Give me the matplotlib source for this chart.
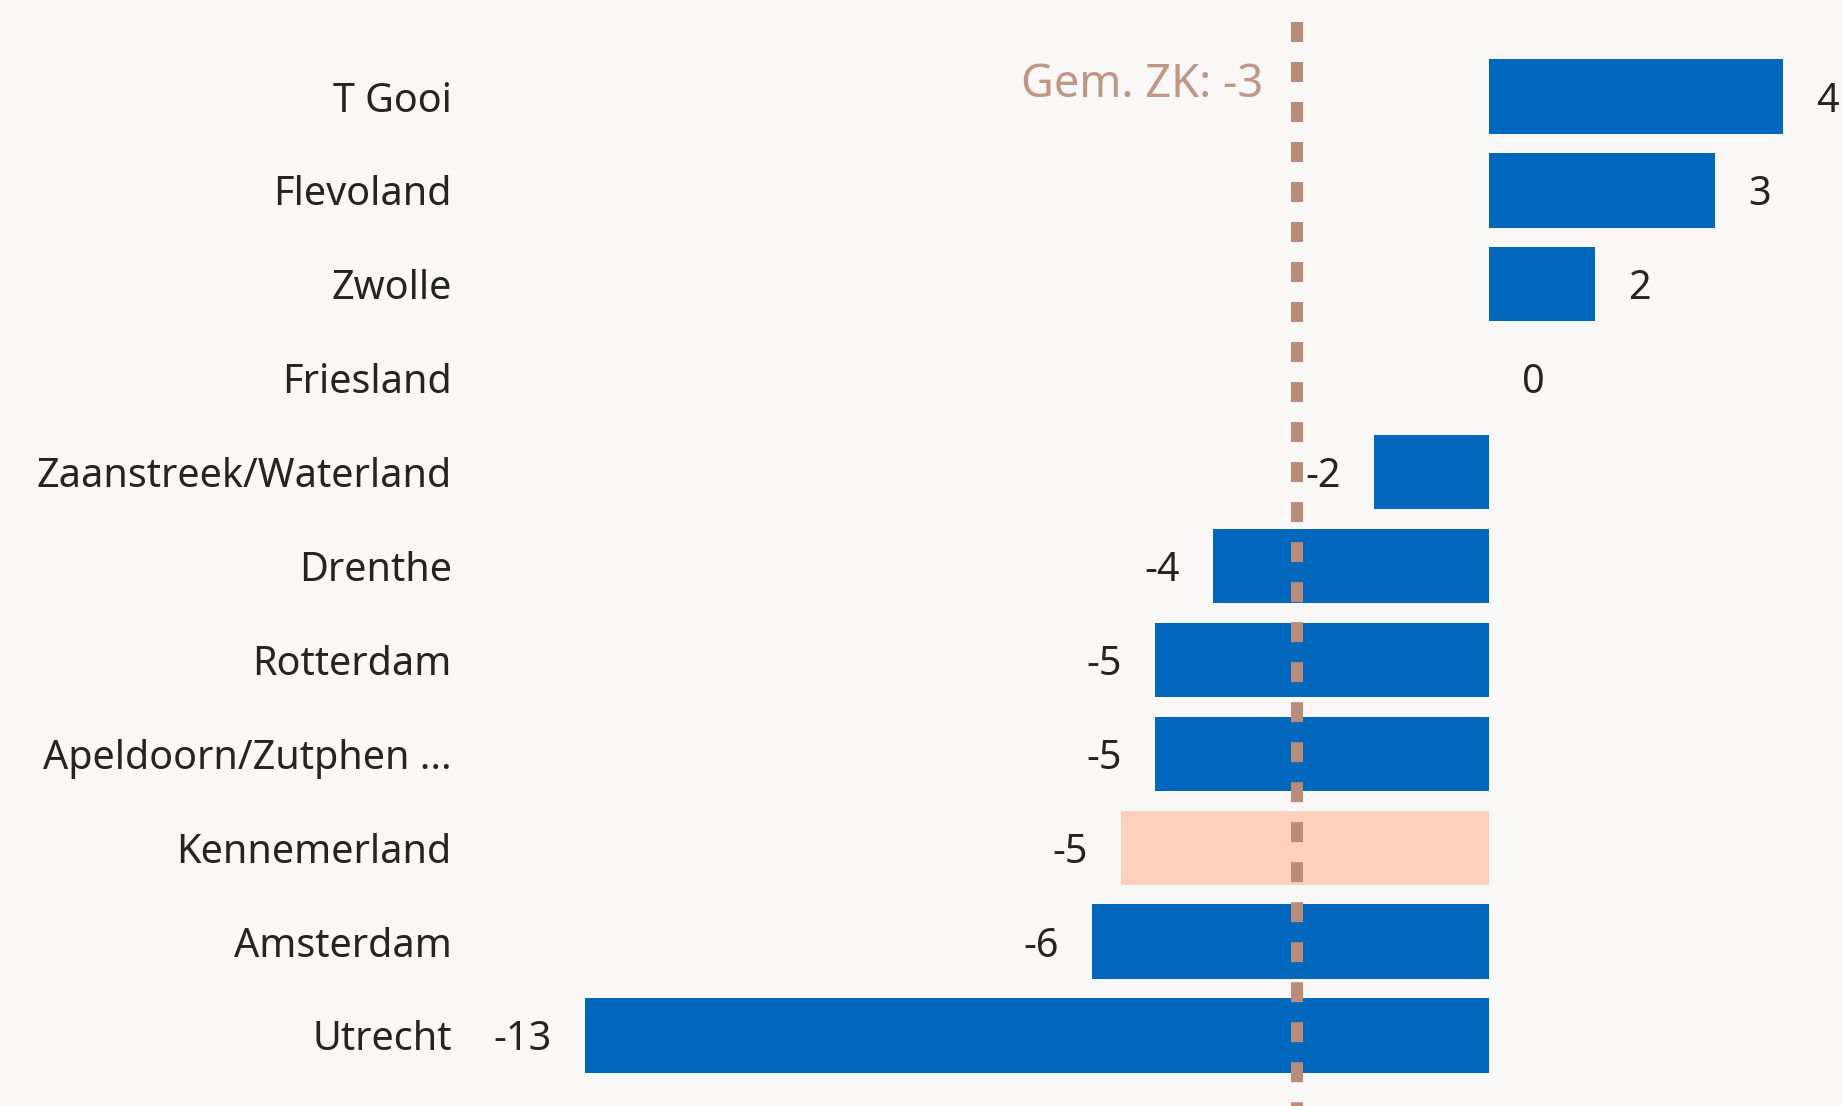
import matplotlib
matplotlib.use("Agg")
import matplotlib.pyplot as plt

categories = ["T Gooi", "Flevoland", "Zwolle", "Friesland", "Zaanstreek/Waterland",
              "Drenthe", "Rotterdam", "Apeldoorn/Zutphen ...", "Kennemerland",
              "Amsterdam", "Utrecht"]
values = [4.23, 3.25, 1.52, 0.0, -1.66, -3.97, -4.80, -4.80, -5.29, -5.71, -13.0]
highlight = "Kennemerland"
average = -2.76
avg_label = "Gem. ZK: -3"

BG = "#F9F8F6"
BLUE = "#0068BC"
PEACH = "#FFD0BD"
LINE = "#BA8C79"
AVGTXT = "#BF9684"
TXT = "#252423"

plt.rcParams['font.family'] = ['Noto Sans', 'DejaVu Sans']

fig = plt.figure(figsize=(18.43, 11.06), dpi=100, facecolor=BG)
ax = fig.add_axes([470 / 1843, 0.0, 1 - 470 / 1843, 1.0])
ax.set_facecolor(BG)

ypos = list(range(len(categories)))
colors = [PEACH if c == highlight else BLUE for c in categories]
ax.barh(ypos, values, height=0.79, color=colors, zorder=2)

ax.set_xlim(-14.654, 5.091)
ax.set_ylim(10.751, -1.028)

ax.set_yticks(ypos)
ax.set_yticklabels(categories, fontsize=28.5, color=TXT)
ax.tick_params(axis='y', length=0, pad=13.2)
ax.set_xticks([])
for s in ax.spines.values():
    s.set_visible(False)

for y, v in zip(ypos, values):
    lbl = f"{round(v):d}"
    if v >= 0:
        ax.annotate(lbl, (v, y), xytext=(23.8, 0), textcoords='offset points',
                    ha='left', va='center_baseline', fontsize=28.5, color=TXT, zorder=4)
    else:
        ax.annotate(lbl, (v, y), xytext=(-23.8, 0), textcoords='offset points',
                    ha='right', va='center_baseline', fontsize=28.5, color=TXT, zorder=4)

ax.plot([average, average], [-0.79, 10.751], color=LINE, linewidth=8.64,
        dashes=(1.667, 1.667), dash_capstyle='butt', solid_capstyle='butt',
        zorder=3, clip_on=False)

ax.annotate(avg_label, (average, -0.176), xytext=(-24.5, 0), textcoords='offset points',
            ha='right', va='center_baseline', fontsize=32.5, color=AVGTXT)

fig.savefig("out.png", dpi=100, facecolor=BG)
